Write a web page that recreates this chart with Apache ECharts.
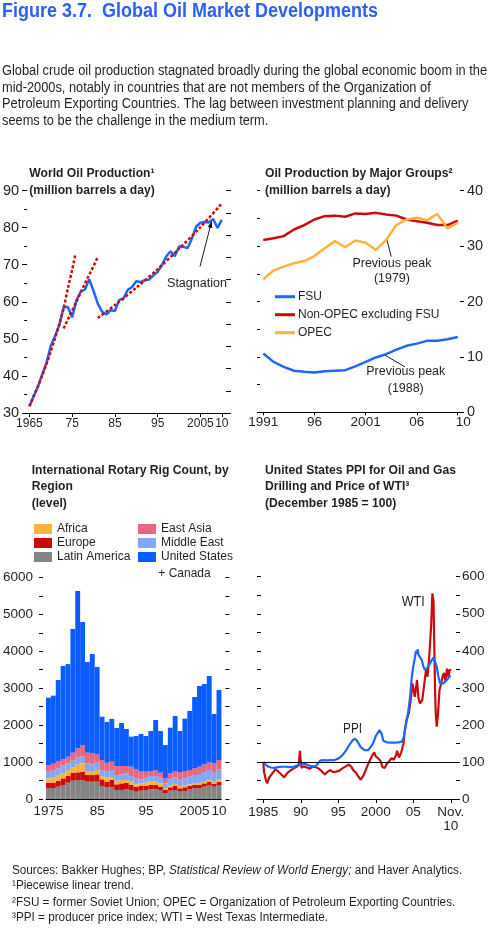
<!DOCTYPE html>
<html>
<head>
<meta charset="utf-8">
<title>Figure 3.7. Global Oil Market Developments</title>
<script src="https://cdn.jsdelivr.net/npm/echarts@6.0.0/dist/echarts.min.js"></script>
<style>
html,body{margin:0;padding:0;background:#ffffff;}
#chart{width:490px;height:934px;}
</style>
</head>
<body>
<div id="chart"></div>
<script>
// ---------------- DATA ----------------
// Panel 1: World oil production (million barrels a day)
const worldOilYears = [1965,1966,1967,1968,1969,1970,1971,1972,1973,1974,1975,1976,1977,1978,1979,1980,1981,1982,1983,1984,1985,1986,1987,1988,1989,1990,1991,1992,1993,1994,1995,1996,1997,1998,1999,2000,2001,2002,2003,2004,2005,2006,2007,2008,2009,2010];
const worldOil = [31.8,34.6,37.1,40.4,43.6,48.1,50.8,53.7,58.5,58.6,55.8,60.4,62.7,63.3,66.1,62.9,59.5,57.3,56.6,57.7,57.5,60.5,60.8,63.2,64.0,65.5,65.3,65.8,66.0,67.1,68.1,69.9,72.2,73.6,72.3,74.9,74.8,74.5,77.0,80.3,81.3,81.5,81.4,82.3,79.9,82.1];
// Piecewise trends
const trend1Years = [1965,1966,1967,1968,1969,1970,1971,1972,1973,1974,1975,1975.8];
const trend1 = [31.8,34.5,37.2,40.1,43.2,46.6,50.2,54.0,58.2,63.6,68.6,73.0];
const trend2Years = [1973,1974,1975,1976,1977,1978,1979,1980,1980.9];
const trend2 = [52.8,55.2,57.6,60.0,62.5,64.9,67.3,69.6,71.8];
const trend3Years = [1981,1985,1990,1995,2000,2005,2010];
const trend3 = [55.6,59.1,63.8,68.8,74.3,80.1,86.5];
const worldOilTicks = [1965,1975,1985,1995,2005,2010];
const worldOilTickLabels = ['1965','75','85','95','2005','10'];

// Panel 2: Oil production by major groups (million barrels a day)
const groupYears = [1991,1992,1993,1994,1995,1996,1997,1998,1999,2000,2001,2002,2003,2004,2005,2006,2007,2008,2009,2010];
const fsu = [10.6,9.1,8.2,7.5,7.3,7.2,7.4,7.5,7.6,8.3,9.1,9.9,10.5,11.3,12.0,12.4,12.9,12.9,13.2,13.6];
const nonOpec = [31.1,31.4,31.8,33.0,33.8,34.8,35.4,35.5,35.3,35.9,35.8,36.0,35.7,35.5,34.8,34.5,34.2,33.8,33.8,34.6];
const opec = [24.0,25.6,26.3,26.9,27.3,28.2,29.6,30.9,29.8,31.0,30.6,29.3,31.1,33.8,34.8,35.1,34.7,35.8,33.2,34.2];
const groupTicks = [1991,1996,2001,2006,2010];
const groupTickLabels = ['1991','96','2001','06','{r|10}'];

// Panel 3: International rotary rig count by region (level)
const rigYears = ['1975','1976','1977','1978','1979','1980','1981','1982','1983','1984','1985','1986','1987','1988','1989','1990','1991','1992','1993','1994','1995','1996','1997','1998','1999','2000','2001','2002','2003','2004','2005','2006','2007','2008','2009','2010'];
const latinAmerica = [298,298,334,379,442,496,514,514,469,469,469,352,316,316,244,244,262,244,199,226,244,262,262,244,153,226,244,199,217,262,289,289,334,379,334,379];
const europe = [144,144,162,180,180,217,208,217,180,180,199,180,153,199,153,180,180,135,135,126,117,117,117,90,90,90,108,90,99,99,90,90,90,90,72,90];
const africa = [117,135,153,135,162,144,217,235,108,90,117,90,108,63,99,90,72,90,63,72,90,90,90,90,45,45,54,63,63,36,45,63,63,72,63,72];
const middleEast = [180,190,180,208,180,180,190,180,208,199,199,162,162,208,153,153,180,153,162,108,126,153,153,153,135,171,180,190,180,208,226,235,235,244,244,262];
const eastAsia = [171,190,199,171,180,217,244,316,289,298,226,271,244,226,244,226,199,253,244,226,162,135,162,135,135,162,171,180,199,180,180,199,217,208,253,253];
const usCanada = [1832,1841,2193,2527,2509,3349,4260,3330,2455,2690,2365,1173,1101,1155,1029,1165,1002,813,903,1002,966,1083,1354,1128,902,1236,1489,1119,1417,1598,1932,2184,2175,2337,1335,1895];
const rigTicks = ['1975','1985','1995','2005','2010'];
const rigTickLabels = ['1975','85','95','2005','10'];

// Panel 4: US PPI for oil and gas drilling and WTI price (December 1985 = 100)
const ppiTime = [1985.0,1985.3,1985.6,1986.0,1986.5,1987.0,1987.5,1988.0,1988.5,1989.0,1989.5,1990.0,1990.5,1991.0,1991.5,1992.0,1992.3,1992.6,1993.0,1993.5,1994.0,1994.5,1995.0,1995.5,1996.0,1996.5,1996.9,1997.2,1997.5,1998.0,1998.5,1999.0,1999.2,1999.6,2000.0,2000.5,2000.8,2001.0,2001.5,2002.0,2002.5,2003.0,2003.5,2003.7,2003.9,2004.13,2004.36,2004.58,2004.8,2005.0,2005.24,2005.35,2005.47,2005.6,2005.69,2005.9,2006.13,2006.36,2006.58,2006.8,2007.0,2007.24,2007.47,2007.69,2007.9,2008.13,2008.36,2008.58,2008.8,2009.0,2009.24,2009.47,2009.69,2009.9,2010.0];
const ppiIndex = [100,93,88,85,84,86,87,87,86,87,90,94,95,91,88,89,96,104,105,104,105,105,109,117,130,147,158,163,157,140,132,132,133,148,170,186,175,157,153,152,152,153,155,164,186,213,240,276,330,357,384,400,392,404,390,389,375,357,348,353,357,366,375,382,380,357,330,312,308,312,317,321,326,332,333];
const wtiTime = [1985.0,1985.1,1985.3,1985.5,1985.6,1985.8,1986.0,1986.3,1986.6,1986.9,1987.2,1987.5,1987.8,1988.0,1988.3,1988.7,1989.0,1989.4,1989.7,1989.8,1989.87,1989.95,1990.1,1990.4,1990.8,1991.2,1991.6,1992.0,1992.4,1992.8,1993.2,1993.6,1993.9,1994.3,1994.7,1995.1,1995.5,1996.0,1996.4,1996.7,1997.0,1997.4,1997.7,1998.0,1998.15,1998.4,1998.7,1999.0,1999.3,1999.6,1999.8,2000.0,2000.3,2000.6,2000.9,2001.2,2001.5,2001.8,2002.1,2002.4,2002.7,2002.85,2003.1,2003.4,2003.7,2003.9,2004.1,2004.4,2004.6,2004.9,2005.2,2005.5,2005.7,2005.9,2006.2,2006.4,2006.7,2006.9,2007.1,2007.3,2007.4,2007.55,2007.7,2007.8,2007.9,2008.0,2008.13,2008.3,2008.5,2008.7,2008.9,2009.1,2009.3,2009.5,2009.7,2009.85,2010.0];
const wtiIndex = [100,72,55,42,48,58,62,72,80,76,70,64,58,65,72,78,82,86,90,108,130,112,84,88,85,82,87,86,82,75,66,74,78,73,74,76,82,88,93,88,78,70,60,52,48,65,80,95,108,120,126,115,110,104,86,84,96,102,110,106,118,130,112,126,150,190,213,231,258,312,276,321,272,258,267,300,348,330,375,440,474,555,533,420,300,230,195,230,294,310,330,340,318,352,330,350,345];
const priceTicks = [1985,1990,1995,2000,2005,2010];
const priceTickLabels = ['1985','90','95','2000','05','Nov.\n10'];

// ---------------- STYLE ----------------
const SANS = "'Liberation Sans', Arial, Helvetica, sans-serif";
function fontAvailable(name) {
  const c = document.createElement('canvas').getContext('2d');
  const s = 'abcdefghijklmnopqrstuvwxyz0123456789ABCDEFG';
  c.font = '40px monospace';
  const w1 = c.measureText(s).width;
  c.font = "40px '" + name + "', monospace";
  const w2 = c.measureText(s).width;
  return Math.abs(w1 - w2) > 0.5;
}
const NARROW_OK = fontAvailable('Liberation Sans Narrow');
const LEGF = NARROW_OK ? "'Liberation Sans Narrow', " + SANS : SANS;
const LEGS = NARROW_OK ? 13.5 : 12;

const BLUE = '#1f66ff';
const RED = '#cc0a0a';
const ORANGE = '#ffb23c';
const GRAY = '#848484';
const LIGHTBLUE = '#80a8ff';
const PINK = '#e6677f';
const RIGBLUE = '#0a5cff';
const INK = '#231f20';
const TITLEBLUE = '#2d5ef7';

const pairs = (xs, ys) => xs.map((x, i) => [x, ys[i]]);
const lookup = (ticks, labels) => (v) => { const i = ticks.indexOf(Math.round(v * 100) / 100); return i >= 0 ? labels[i] : ''; };

function xAxisDef(grid, min, max, ticks, labels, size, margin, tickLen, shift) {
  return {
    gridIndex: grid, type: 'value', min: min, max: max,
    axisLine: { show: true, onZero: false, lineStyle: { color: '#000', width: 1 } },
    axisTick: { show: tickLen > 0, customValues: ticks, length: tickLen, lineStyle: { color: '#000' } },
    axisLabel: { customValues: ticks, formatter: lookup(ticks, labels), hideOverlap: false, showMinLabel: true, showMaxLabel: true,
      margin: margin, color: INK, fontFamily: SANS, fontSize: size, lineHeight: size + 1,
      rich: { r: { padding: [0, 0, 0, shift || 0], color: INK, fontFamily: SANS, fontSize: size } } },
    splitLine: { show: false }
  };
}
function yAxisDef(grid, pos, min, max, interval, o) {
  o = o || {};
  return {
    gridIndex: grid, type: 'value', position: pos, min: min, max: max, interval: interval, offset: o.offset || 0,
    axisLine: { show: false },
    axisTick: { show: true, length: o.tickLen || 4, inside: !!o.inside, lineStyle: { color: '#000' } },
    minorTick: o.minor ? { show: true, splitNumber: 2, length: o.minor, lineStyle: { color: '#000' } } : { show: false },
    axisLabel: o.labels ? { show: true, customValues: o.labels, formatter: (v) => String(v), showMinLabel: true, showMaxLabel: true, margin: o.margin, color: INK, fontFamily: SANS, fontSize: o.size } : { show: false },
    splitLine: { show: false }
  };
}

const option = {
  animation: false,
  backgroundColor: '#ffffff',
  grid: [
    { left: 26, top: 190.5, width: 200, height: 222.5 },
    { left: 260, top: 190.7, width: 200, height: 221.6 },
    { left: 42.8, top: 577.4, width: 178.6, height: 221.6 },
    { left: 257, top: 576.7, width: 199, height: 222.3 }
  ],
  xAxis: [
    xAxisDef(0, 1964.47, 2010.98, worldOilTicks, worldOilTickLabels, 12, 4, 4, 0),
    xAxisDef(1, 1990.68, 2010.22, groupTicks, groupTickLabels, 13.5, 3, 3, 11),
    { gridIndex: 2, type: 'category', data: rigYears, boundaryGap: true,
      axisLine: { show: true, lineStyle: { color: '#000', width: 1 } },
      axisTick: { show: false },
      axisLabel: { interval: (i, v) => rigTicks.indexOf(v) >= 0, formatter: (v) => rigTickLabels[rigTicks.indexOf(v)] || '',
        hideOverlap: false, showMinLabel: true, showMaxLabel: true, margin: 5, color: INK, fontFamily: SANS, fontSize: 13.5 },
      splitLine: { show: false } },
    xAxisDef(3, 1984.16, 2010.7, priceTicks, priceTickLabels, 13.5, 6, 4, 0)
  ],
  yAxis: [
    yAxisDef(0, 'left', 30, 90, 10, { tickLen: 5, minor: 3, labels: [30,40,50,60,70,80,90], margin: 8, size: 14.5 }),
    yAxisDef(0, 'right', 0, 10, 1, { tickLen: 5 }),
    yAxisDef(1, 'left', 0, 40, 5, { tickLen: 3 }),
    yAxisDef(1, 'right', 0, 40, 10, { tickLen: 4, labels: [0,10,20,30,40], margin: 7, size: 14.5 }),
    yAxisDef(2, 'left', 0, 6000, 500, { tickLen: 4, offset: 3, labels: [0,1000,2000,3000,4000,5000,6000], margin: 10, size: 13.5 }),
    yAxisDef(2, 'right', 0, 6000, 500, { tickLen: 4, offset: 4 }),
    yAxisDef(3, 'left', 0, 600, 50, { tickLen: 4, inside: true }),
    yAxisDef(3, 'right', 0, 600, 50, { tickLen: 4, labels: [0,100,200,300,400,500,600], margin: 6, size: 13.5 })
  ],
  legend: [
    { data: ['FSU', 'Non-OPEC excluding FSU', 'OPEC'], left: 275, top: 289.7, orient: 'vertical', padding: 0,
      icon: 'rect', itemWidth: 20, itemHeight: 3, itemGap: 4, selectedMode: false,
      textStyle: { fontFamily: LEGF, fontSize: LEGS, color: INK, lineHeight: 14, padding: [0, 0, 0, -2] } },
    { data: ['Africa', 'Europe', 'Latin America'], left: 34, top: 522.5, orient: 'vertical', padding: 0,
      icon: 'rect', itemWidth: 18, itemHeight: 10, itemGap: 1, selectedMode: false,
      textStyle: { fontFamily: LEGF, fontSize: LEGS, color: INK, lineHeight: 13 } },
    { data: ['East Asia', 'Middle East', 'United States + Canada'], left: 138, top: 522.5, orient: 'vertical', padding: 0,
      icon: 'rect', itemWidth: 18, itemHeight: 10, itemGap: 1, selectedMode: false,
      formatter: (n) => n === 'United States + Canada' ? 'United States' : n,
      textStyle: { fontFamily: LEGF, fontSize: LEGS, color: INK, lineHeight: 13 } }
  ],
  series: [
    // panel 1
    { type: 'line', name: 'World oil production', xAxisIndex: 0, yAxisIndex: 0, data: pairs(worldOilYears, worldOil),
      symbol: 'none', lineStyle: { color: BLUE, width: 2.5 }, itemStyle: { color: BLUE }, z: 2 },
    { type: 'line', name: 'Trend 1965-75', xAxisIndex: 0, yAxisIndex: 0, data: pairs(trend1Years, trend1),
      symbol: 'none', smooth: 0.3, lineStyle: { color: RED, width: 2.5, type: [3, 2] }, itemStyle: { color: RED }, z: 3 },
    { type: 'line', name: 'Trend 1973-80', xAxisIndex: 0, yAxisIndex: 0, data: pairs(trend2Years, trend2),
      symbol: 'none', lineStyle: { color: RED, width: 2.5, type: [3, 2] }, itemStyle: { color: RED }, z: 3 },
    { type: 'line', name: 'Trend 1981-2010', xAxisIndex: 0, yAxisIndex: 0, data: pairs(trend3Years, trend3),
      symbol: 'none', smooth: 0.3, lineStyle: { color: RED, width: 2.5, type: [3, 2] }, itemStyle: { color: RED }, z: 3 },
    // panel 2
    { type: 'line', name: 'FSU', xAxisIndex: 1, yAxisIndex: 3, data: pairs(groupYears, fsu),
      symbol: 'none', lineStyle: { color: BLUE, width: 2.5 }, itemStyle: { color: BLUE } },
    { type: 'line', name: 'Non-OPEC excluding FSU', xAxisIndex: 1, yAxisIndex: 3, data: pairs(groupYears, nonOpec),
      symbol: 'none', lineStyle: { color: RED, width: 2.5 }, itemStyle: { color: RED } },
    { type: 'line', name: 'OPEC', xAxisIndex: 1, yAxisIndex: 3, data: pairs(groupYears, opec),
      symbol: 'none', lineStyle: { color: ORANGE, width: 2.5 }, itemStyle: { color: ORANGE } },
    // panel 3 (stacked, bottom to top)
    { type: 'bar', name: 'Latin America', stack: 'rigs', xAxisIndex: 2, yAxisIndex: 4, barCategoryGap: '0%', data: latinAmerica, itemStyle: { color: GRAY } },
    { type: 'bar', name: 'Europe', stack: 'rigs', xAxisIndex: 2, yAxisIndex: 4, barCategoryGap: '0%', data: europe, itemStyle: { color: RED } },
    { type: 'bar', name: 'Africa', stack: 'rigs', xAxisIndex: 2, yAxisIndex: 4, barCategoryGap: '0%', data: africa, itemStyle: { color: ORANGE } },
    { type: 'bar', name: 'Middle East', stack: 'rigs', xAxisIndex: 2, yAxisIndex: 4, barCategoryGap: '0%', data: middleEast, itemStyle: { color: LIGHTBLUE } },
    { type: 'bar', name: 'East Asia', stack: 'rigs', xAxisIndex: 2, yAxisIndex: 4, barCategoryGap: '0%', data: eastAsia, itemStyle: { color: PINK } },
    { type: 'bar', name: 'United States + Canada', stack: 'rigs', xAxisIndex: 2, yAxisIndex: 4, barCategoryGap: '0%', data: usCanada, itemStyle: { color: RIGBLUE } },
    // panel 4
    { type: 'line', name: 'WTI', xAxisIndex: 3, yAxisIndex: 7, data: pairs(wtiTime, wtiIndex),
      symbol: 'none', lineStyle: { color: RED, width: 2.2 }, itemStyle: { color: RED }, z: 2,
      markLine: { silent: true, symbol: 'none', label: { show: false }, lineStyle: { color: '#000', width: 1, type: 'solid' },
        data: [{ yAxis: 100 }], z: 5 } },
    { type: 'line', name: 'PPI', xAxisIndex: 3, yAxisIndex: 7, data: pairs(ppiTime, ppiIndex),
      symbol: 'none', lineStyle: { color: BLUE, width: 2.2 }, itemStyle: { color: BLUE }, z: 3 }
  ]
};

const chart = echarts.init(document.getElementById('chart'), null, { renderer: 'canvas', width: 490, height: 934 });
chart.setOption(option);

// ---------------- TEXT / ANNOTATIONS ----------------
const mctx = document.createElement('canvas').getContext('2d');
function measure(text, size, weight, family) {
  mctx.font = (weight || 'normal') + ' ' + size + 'px ' + (family || SANS);
  return mctx.measureText(text).width;
}
function T(x, y, text, o) {
  o = o || {};
  const size = o.size || 13, weight = o.weight || 'normal', family = o.family || SANS;
  let sx = o.sx || 1;
  if (o.w) sx = o.w / measure(o.plain || text, size, weight, family);
  const st = { text: text, fontSize: size, fontWeight: weight, fontFamily: family, fill: o.fill || INK,
    textAlign: o.align || 'left', textVerticalAlign: 'middle', align: o.align || 'left', verticalAlign: 'middle' };
  if (o.rich) st.rich = o.rich;
  if (o.lineHeight) st.lineHeight = o.lineHeight;
  return { type: 'text', x: x, y: y, scaleX: sx, z: 100, silent: true, style: st };
}
const g = [];
// Figure title
g.push(T(2, 11.1, 'Figure 3.7.  Global Oil Market Developments', { size: 20, weight: 'bold', fill: TITLEBLUE, w: 376 }));
// Intro paragraph
const para = [
  'Global crude oil production stagnated broadly during the global economic boom in the',
  'mid-2000s, notably in countries that are not members of the Organization of',
  'Petroleum Exporting Countries. The lag between investment planning and delivery',
  'seems to be the challenge in the medium term.'
];
const paraScale = 485 / measure(para[0], 14);
para.forEach((t, i) => g.push(T(2, 71 + i * 16.67, t, { size: 14, sx: paraScale })));
// Panel titles
const ptScale = 197 / measure('International Rotary Rig Count, by', 12, 'bold');
const PT = (x, y, t) => g.push(T(x, y, t, { size: 12, weight: 'bold', sx: ptScale }));
PT(29.3, 174, 'World Oil Production\u00b9');
PT(29.3, 190.2, '(million barrels a day)');
PT(265, 174, 'Oil Production by Major Groups\u00b2');
PT(265, 190.2, '(million barrels a day)');
PT(31.7, 470.7, 'International Rotary Rig Count, by');
PT(31.7, 486.7, 'Region');
PT(31.7, 503.4, '(level)');
PT(265, 470.7, 'United States PPI for Oil and Gas');
PT(265, 486.7, 'Drilling and Price of WTI\u00b3');
PT(265, 503.4, '(December 1985 = 100)');
// second line of legend entry
g.push(T(158.3, 573.5, '+ Canada', { size: LEGS, family: LEGF }));
// Footnotes
const fnPlain = 'Sources: Bakker Hughes; BP, Statistical Review of World Energy; and Haver Analytics.';
const fnScale = 450 / measure(fnPlain, 12);
g.push(T(12, 870.2, 'Sources: Bakker Hughes; BP, {i|Statistical Review of World Energy;} and Haver Analytics.',
  { size: 12, sx: fnScale, rich: { i: { fontStyle: 'italic', fontSize: 12, fontFamily: SANS, fill: INK } } }));
g.push(T(12, 885.9, '\u00b9Piecewise linear trend.', { size: 12, sx: fnScale }));
g.push(T(12, 902.6, '\u00b2FSU = former Soviet Union; OPEC = Organization of Petroleum Exporting Countries.', { size: 12, sx: fnScale }));
g.push(T(12, 917.6, '\u00b3PPI = producer price index; WTI = West Texas Intermediate.', { size: 12, sx: fnScale }));

// Data-anchored annotations
const P = (xi, yi, x, y) => chart.convertToPixel({ xAxisIndex: xi, yAxisIndex: yi }, [x, y]);
function leader(a, b, arrow) {
  g.push({ type: 'line', z: 100, silent: true, shape: { x1: a[0], y1: a[1], x2: b[0], y2: b[1] }, style: { stroke: '#000', lineWidth: 0.9 } });
  if (arrow) {
    const dx = b[0] - a[0], dy = b[1] - a[1], L = Math.hypot(dx, dy), ux = dx / L, uy = dy / L;
    const hl = 6, hw = 2.3;
    g.push({ type: 'polygon', z: 100, silent: true, shape: { points: [
      [b[0], b[1]],
      [b[0] - ux * hl - uy * hw, b[1] - uy * hl + ux * hw],
      [b[0] - ux * hl + uy * hw, b[1] - uy * hl - ux * hw]
    ] }, style: { fill: '#000' } });
  }
}
// Panel 1: Stagnation
leader(P(0, 0, 2004.9, 69.5), P(0, 0, 2007.6, 81.6), true);
let p = P(0, 0, 2004.2, 64.8);
g.push(T(p[0], p[1], 'Stagnation', { size: 12.5, align: 'center', w: 60 }));
// Panel 2: previous peaks
leader(P(1, 3, 2003.1, 31.0), P(1, 3, 2003.5, 28.1), false);
p = P(1, 3, 2003.57, 26.8);
g.push(T(p[0], p[1], 'Previous peak', { size: 12.5, align: 'center', w: 79 }));
p = P(1, 3, 2003.57, 24.1);
g.push(T(p[0], p[1], '(1979)', { size: 12.5, align: 'center', sx: 79 / measure('Previous peak', 12.5) }));
leader(P(1, 3, 2002.9, 10.3), P(1, 3, 2004.85, 8.2), false);
p = P(1, 3, 2004.92, 7.33);
g.push(T(p[0], p[1], 'Previous peak', { size: 12.5, align: 'center', w: 79 }));
p = P(1, 3, 2004.92, 4.33);
g.push(T(p[0], p[1], '(1988)', { size: 12.5, align: 'center', sx: 79 / measure('Previous peak', 12.5) }));
// Panel 4: series labels
p = P(3, 7, 2005.0, 532);
g.push(T(p[0], p[1], 'WTI', { size: 14, align: 'center', w: 23 }));
p = P(3, 7, 1996.9, 188);
g.push(T(p[0], p[1], 'PPI', { size: 14, align: 'center', w: 19 }));

chart.setOption({ graphic: g });
</script>
</body>
</html>
